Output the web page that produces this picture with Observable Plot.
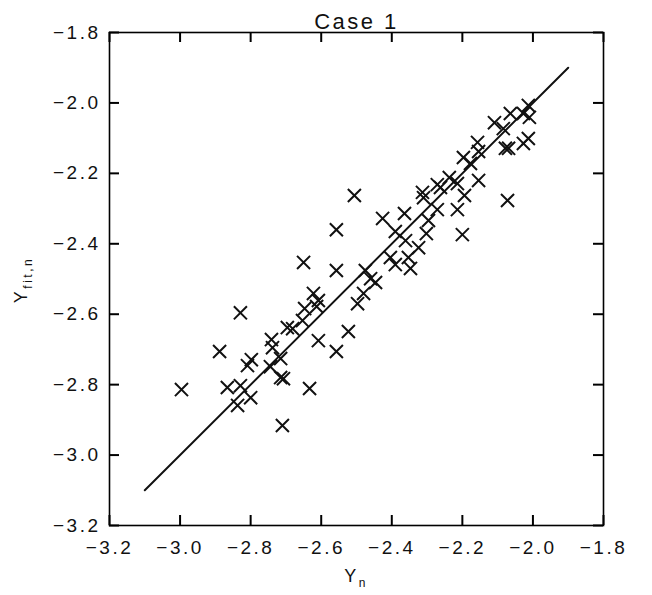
<!DOCTYPE html>
<html>
<head>
<meta charset="utf-8">
<script src="https://cdn.jsdelivr.net/npm/d3@7"></script>
<script src="https://cdn.jsdelivr.net/npm/@observablehq/plot@0.6"></script>
<style>
  body { margin: 0; background: #fff; }
  #chart svg text { letter-spacing: 2.5px; }
</style>
</head>
<body>
<div id="chart"></div>
<script>
const title = "Case 1";
const xLabelMain = "Y";
const xLabelSub = "n";
const yLabelMain = "Y";
const yLabelSub = "fit,n";

const xTicks = [-3.2, -3.0, -2.8, -2.6, -2.4, -2.2, -2.0, -1.8];
const yTicks = [-3.2, -3.0, -2.8, -2.6, -2.4, -2.2, -2.0, -1.8];

// observed Y_n
const yn = [
  -2.996, -2.888, -2.829, -2.866, -2.829, -2.837, -2.800, -2.809, -2.798, -2.741,
  -2.738, -2.744, -2.715, -2.715, -2.707, -2.710, -2.633, -2.696, -2.681, -2.653,
  -2.647, -2.622, -2.608, -2.613, -2.608, -2.557, -2.523, -2.650, -2.557, -2.557,
  -2.506, -2.497, -2.480, -2.475, -2.460, -2.446, -2.426, -2.364, -2.390, -2.361,
  -2.404, -2.390, -2.353, -2.347, -2.324, -2.302, -2.296, -2.271, -2.313, -2.310,
  -2.271, -2.262, -2.237, -2.214, -2.194, -2.214, -2.200, -2.154, -2.197, -2.177,
  -2.154, -2.157, -2.109, -2.084, -2.064, -2.078, -2.069, -2.072, -2.027, -2.013,
  -2.013, -2.027, -2.010
];
// fitted Y_fit,n
const yfit = [
  -2.814, -2.706, -2.596, -2.808, -2.803, -2.859, -2.837, -2.746, -2.729, -2.672,
  -2.695, -2.749, -2.726, -2.780, -2.783, -2.916, -2.811, -2.638, -2.641, -2.618,
  -2.584, -2.541, -2.561, -2.578, -2.675, -2.706, -2.649, -2.453, -2.360, -2.476,
  -2.263, -2.570, -2.541, -2.476, -2.499, -2.510, -2.328, -2.314, -2.365, -2.391,
  -2.439, -2.459, -2.439, -2.470, -2.411, -2.371, -2.334, -2.303, -2.254, -2.269,
  -2.232, -2.240, -2.212, -2.229, -2.263, -2.303, -2.374, -2.220, -2.155, -2.172,
  -2.138, -2.112, -2.056, -2.073, -2.030, -2.129, -2.129, -2.277, -2.115, -2.101,
  -2.007, -2.030, -2.041
];

// one-to-one line
const lineX = [-3.1, -1.9];
const lineY = [-3.1, -1.9];

const fmt = d3.format(".1f");
const ink = "#111";

const W = 652, H = 595, mL = 109, mR = 49, mT = 32, mB = 70;
const frameW = W - mL - mR, frameH = H - mT - mB, tickLen = 10;

const chart = Plot.plot({
  width: W,
  height: H,
  marginLeft: mL,
  marginRight: mR,
  marginTop: mT,
  marginBottom: mB,
  style: { fontFamily: "'Liberation Sans', Arial, sans-serif", background: "#fff" },
  x: { domain: [-3.2, -1.8] },
  y: { domain: [-3.2, -1.8] },
  marks: [
    Plot.axisX(xTicks, { anchor: "bottom", tickSize: 0, tickPadding: 15, tickFormat: fmt, fontSize: 19, fill: ink, label: null }),
    Plot.axisY(yTicks, { anchor: "left", tickSize: 0, tickPadding: 9, tickFormat: fmt, fontSize: 19, fill: ink, label: null }),
    // inward ticks on all four sides
    Plot.tickX(xTicks, { x: d => d, insetTop: frameH - tickLen, stroke: "black", strokeWidth: 2 }),
    Plot.tickX(xTicks, { x: d => d, insetBottom: frameH - tickLen, stroke: "black", strokeWidth: 2 }),
    Plot.tickY(yTicks, { y: d => d, insetRight: frameW - tickLen, stroke: "black", strokeWidth: 2 }),
    Plot.tickY(yTicks, { y: d => d, insetLeft: frameW - tickLen, stroke: "black", strokeWidth: 2 }),
    Plot.frame({ stroke: "black", strokeWidth: 1.6 }),
    Plot.line(lineX, { x: lineX, y: lineY, stroke: ink, strokeWidth: 2 }),
    Plot.dot(yn, { x: yn, y: yfit, symbol: "times", r: 6, stroke: ink, strokeWidth: 2 }),
    Plot.text([title], { frameAnchor: "top", dy: -19, fontSize: 22, fill: ink })
  ]
});

document.getElementById("chart").appendChild(chart);

const svg = d3.select(chart);
// x-axis title: Y_n
const xt = svg.append("text")
  .attr("x", 356).attr("y", 582)
  .attr("text-anchor", "middle")
  .attr("font-size", 18)
  .attr("fill", ink);
xt.append("tspan").attr("fill", ink).text(xLabelMain);
xt.append("tspan").attr("fill", ink).attr("font-size", 12).attr("dy", 5).text(xLabelSub);

// y-axis title: Y_fit,n
const yt = svg.append("text")
  .attr("transform", "translate(27,280) rotate(-90)")
  .attr("text-anchor", "middle")
  .attr("font-size", 18)
  .attr("fill", ink);
yt.append("tspan").attr("fill", ink).text(yLabelMain);
yt.append("tspan").attr("fill", ink).attr("font-size", 12).attr("dy", 5).text(yLabelSub);
</script>
</body>
</html>
